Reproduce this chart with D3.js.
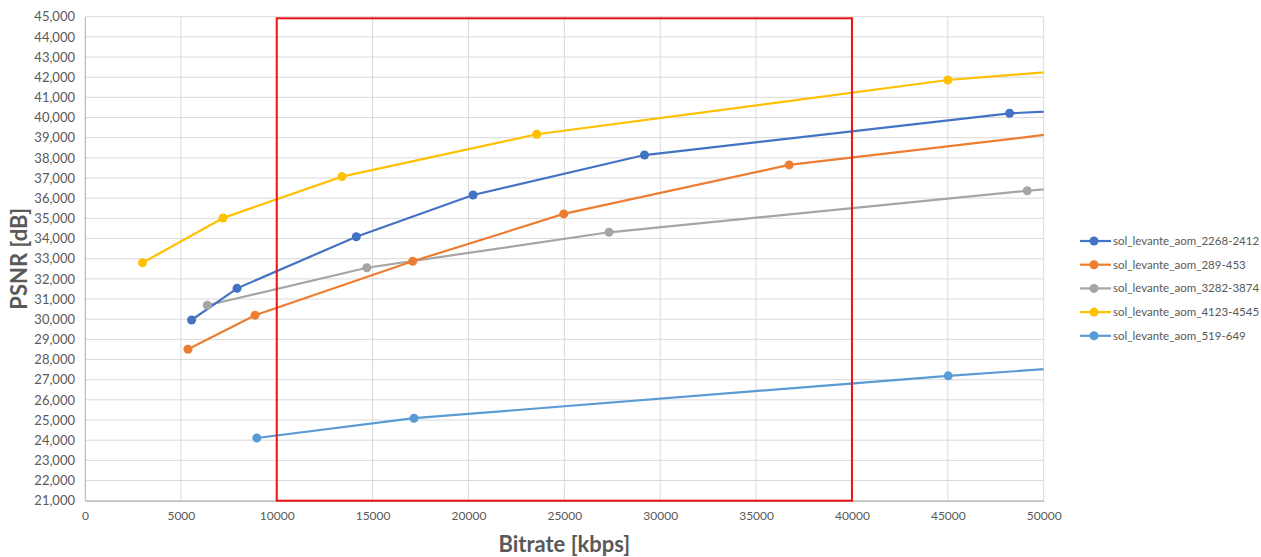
<!DOCTYPE html>
<html>
<head>
<meta charset="utf-8">
<script src="https://cdn.jsdelivr.net/npm/d3@7"></script>
<style>
  html, body { margin: 0; padding: 0; background: #fff; }
  svg { display: block; font-family: Lato, "Liberation Sans", sans-serif; }
</style>
</head>
<body>
<svg id="chart" width="1261" height="557"></svg>
<script>
// ---- data ----
const seriesNames = [
  "sol_levante_aom_2268-2412",
  "sol_levante_aom_289-453",
  "sol_levante_aom_3282-3874",
  "sol_levante_aom_4123-4545",
  "sol_levante_aom_519-649"
];
const seriesColors = ["#4472C4", "#ED7D31", "#A5A5A5", "#FFC000", "#5B9BD5"];

const bitrate_2268 = [5560, 7930, 14150, 20240, 29180, 48220, 60000];
const psnr_2268    = [29960, 31530, 34090, 36160, 38140, 40210, 40740];

const bitrate_289  = [5370, 8870, 17090, 24970, 36720, 60000];
const psnr_289     = [28510, 30200, 32870, 35220, 37650, 40250];

const bitrate_3282 = [6380, 14700, 27330, 49140, 60000];
const psnr_3282    = [30690, 32550, 34310, 36370, 37250];

const bitrate_4123 = [3000, 7200, 13400, 23560, 45000, 60000];
const psnr_4123    = [32800, 35020, 37070, 39170, 41860, 43000];

const bitrate_519  = [8960, 17160, 45020, 60000];
const psnr_519     = [24110, 25090, 27190, 28180];

const xTicks = [0, 5000, 10000, 15000, 20000, 25000, 30000, 35000, 40000, 45000, 50000];
const yTicks = d3.range(21000, 45001, 1000);

// highlight box (bitrate range 10000-40000)
const boxX = [10000, 40000];
const boxY = [21000, 44920];

// ---- layout ----
const svg = d3.select("#chart");
const pL = 85, pR = 1043.7, pT = 16.7, pB = 500.7;

const x = d3.scaleLinear().domain([0, 50000]).range([pL, pR]);
const y = d3.scaleLinear().domain([21000, 45000]).range([pB, pT]);

const series = [
  {name: seriesNames[0], color: seriesColors[0], xs: bitrate_2268, ys: psnr_2268},
  {name: seriesNames[1], color: seriesColors[1], xs: bitrate_289,  ys: psnr_289},
  {name: seriesNames[2], color: seriesColors[2], xs: bitrate_3282, ys: psnr_3282},
  {name: seriesNames[3], color: seriesColors[3], xs: bitrate_4123, ys: psnr_4123},
  {name: seriesNames[4], color: seriesColors[4], xs: bitrate_519,  ys: psnr_519}
].map(s => ({...s, pts: s.xs.map((v, i) => [v, s.ys[i]])}));

// gridlines
const grid = svg.append("g");
grid.selectAll("line.h").data(yTicks).join("line").attr("class", "h")
  .attr("x1", pL).attr("x2", pR)
  .attr("y1", d => y(d)).attr("y2", d => y(d))
  .attr("stroke", "#d9d9d9").attr("stroke-width", 1);
grid.selectAll("line.v").data(xTicks).join("line").attr("class", "v")
  .attr("y1", pT).attr("y2", pB)
  .attr("x1", d => x(d)).attr("x2", d => x(d))
  .attr("stroke", "#d9d9d9").attr("stroke-width", 1);

// axes
const yAxis = svg.append("g").attr("transform", `translate(${pL},0)`)
  .call(d3.axisLeft(y).tickValues(yTicks).tickSize(0).tickPadding(10)
    .tickFormat(d3.format(",")));
yAxis.select(".domain").attr("stroke", "#bfbfbf");
yAxis.selectAll("text").attr("fill", "#595959").style("font-size", "13px")
  .style("font-family", "Lato, sans-serif");

const xAxis = svg.append("g").attr("transform", `translate(0,${pB})`)
  .call(d3.axisBottom(x).tickValues(xTicks).tickSize(0).tickPadding(11)
    .tickFormat(d3.format("d")));
xAxis.select(".domain").attr("stroke", "#bfbfbf").attr("stroke-width", 1.5);
xAxis.selectAll("text").attr("fill", "#595959").style("font-size", "12px")
  .style("font-family", "Lato, sans-serif");

// axis titles
svg.append("text").attr("x", (pL + pR) / 2).attr("y", 552)
  .attr("text-anchor", "middle").attr("fill", "#595959")
  .style("font-size", "22px").style("font-weight", "bold")
  .text("Bitrate [kbps]");
svg.append("text")
  .attr("transform", `translate(27,${(pT + pB) / 2}) rotate(-90)`)
  .attr("text-anchor", "middle").attr("fill", "#595959")
  .style("font-size", "22px").style("font-weight", "bold")
  .text("PSNR [dB]");

// clip
svg.append("defs").append("clipPath").attr("id", "plotClip")
  .append("rect").attr("x", pL).attr("y", pT - 6)
  .attr("width", pR - pL).attr("height", pB - pT + 12);

const line = d3.line().x(d => x(d[0])).y(d => y(d[1]));
const plot = svg.append("g").attr("clip-path", "url(#plotClip)");

// draw in reverse so first series is on top
series.slice().reverse().forEach(s => {
  plot.append("path").datum(s.pts).attr("d", line)
    .attr("fill", "none").attr("stroke", s.color).attr("stroke-width", 2.2);
});
series.slice().reverse().forEach(s => {
  plot.append("g").selectAll("circle").data(s.pts.filter(p => p[0] <= 50000)).join("circle")
    .attr("cx", d => x(d[0])).attr("cy", d => y(d[1])).attr("r", 4.5)
    .attr("fill", s.color);
});

// red highlight box
svg.append("rect")
  .attr("x", x(boxX[0])).attr("y", y(boxY[1]))
  .attr("width", x(boxX[1]) - x(boxX[0]))
  .attr("height", y(boxY[0]) - y(boxY[1]))
  .attr("fill", "none").attr("stroke", "#ee1111").attr("stroke-width", 2);

// legend
const legend = svg.append("g").attr("transform", "translate(1080,241)");
series.forEach((s, i) => {
  const g = legend.append("g").attr("transform", `translate(0,${i * 23.7})`);
  g.append("line").attr("x1", 0).attr("x2", 31).attr("y1", 0).attr("y2", 0)
    .attr("stroke", s.color).attr("stroke-width", 2.2);
  g.append("circle").attr("cx", 14).attr("cy", 0).attr("r", 4.5).attr("fill", s.color);
  g.append("text").attr("x", 33).attr("y", 0).attr("dy", "0.35em")
    .attr("fill", "#595959").style("font-size", "11.5px").text(s.name);
});
</script>
</body>
</html>
